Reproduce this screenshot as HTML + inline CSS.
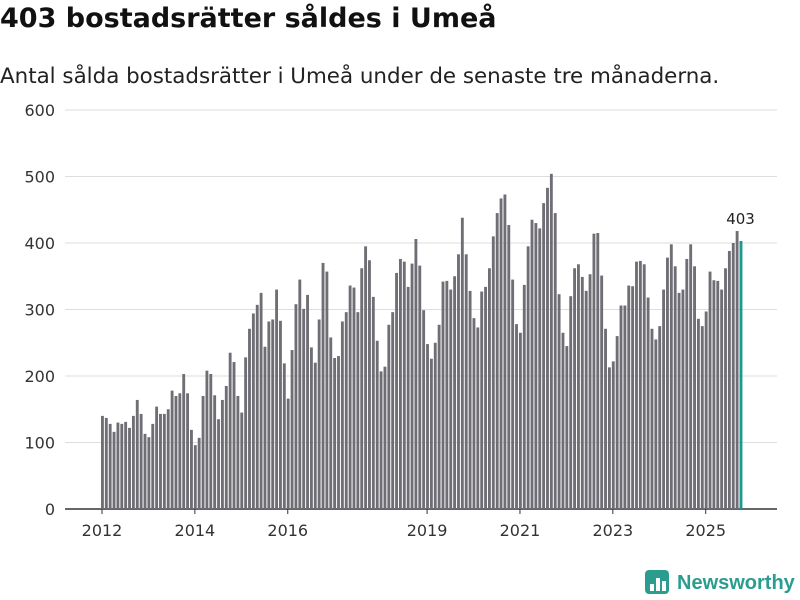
<!DOCTYPE html>
<html><head><meta charset="utf-8"><style>
body{margin:0;background:#fff;font-family:"Liberation Sans","DejaVu Sans",sans-serif;}
#wrap{position:relative;width:800px;height:600px;overflow:hidden;}
h1{position:absolute;left:0;top:3px;margin:0;font-size:27px;font-weight:bold;color:#111;font-family:"DejaVu Sans",sans-serif;}
p.sub{position:absolute;left:0;top:64px;margin:0;font-size:21.4px;color:#222;font-family:"DejaVu Sans",sans-serif;}
</style></head><body>
<div id="wrap">
<h1>403 bostadsrätter såldes i Umeå</h1>
<p class="sub">Antal sålda bostadsrätter i Umeå under de senaste tre månaderna.</p>
<svg id="chart" width="800" height="600" style="position:absolute;left:0;top:0"></svg>
</div>
<script>
const startYear = 2012;
const values = [
140,137,128,116,130,128,131,122,140,164,143,113,
108,128,154,143,143,150,178,170,174,203,174,119,
96,107,170,208,203,171,135,164,185,235,221,170,
145,228,271,294,307,325,244,282,285,330,283,219,
166,239,308,345,301,322,243,220,285,370,357,258,
227,230,282,296,336,333,296,362,395,374,319,253,
207,214,277,296,355,376,372,334,369,406,366,299,
248,226,250,277,342,343,330,350,383,438,383,328,
287,273,327,334,362,410,445,467,473,427,345,278,
265,337,395,435,430,422,460,483,504,445,323,265,
245,320,362,368,349,328,353,414,415,351,271,213,
222,260,306,306,336,335,372,373,368,318,271,255,
275,330,378,398,365,325,330,376,398,365,286,275,
297,357,344,343,330,362,388,400,418,403];
const yTicks = [0,100,200,300,400,500,600];
const xTickYears = [2012,2014,2016,2019,2021,2023,2025];

const NS="http://www.w3.org/2000/svg";
const svg=document.getElementById('chart');
const y0=509, y1=110, yMax=600;
const x0=101, monthW=3.87;
const y=v=>y0-(v/yMax)*(y0-y1);
const x=i=>x0+i*monthW;
function mk(t,a){const e=document.createElementNS(NS,t);for(const k in a)e.setAttribute(k,a[k]);svg.appendChild(e);return e;}
yTicks.forEach(t=>{
  const g=mk('line',{x1:65,x2:777,y1:y(t),y2:y(t),stroke:t===0?'#333':'#ddd','stroke-width':t===0?1.5:1});
  
  
  const l=mk('text',{x:55,y:y(t)+6,'text-anchor':'end','font-size':16,fill:'#333','font-family':'DejaVu Sans, sans-serif'});
  l.textContent=t;
  
  
});
values.forEach((v,i)=>{
  const last=i===values.length-1;
  const r=mk('rect',{x:x(i),y:y(v),width:monthW-1,height:y0-y(v),fill:last?'#1a9a8f':'#6f6e75'});
  
  
});
const li=values.length-1;
const lab=mk('text',{x:x(li)+1,y:y(values[li])-17,'text-anchor':'middle','font-size':15,fill:'#222','font-family':'DejaVu Sans, sans-serif'});
lab.textContent=values[li];


xTickYears.forEach(yr=>{
  const xi=x((yr-startYear)*12)+1;
  const tk=mk('line',{x1:xi,x2:xi,y1:y0,y2:y0+5,stroke:'#333'});
  
  
  const t=mk('text',{x:xi,y:y0+27,'text-anchor':'middle','font-size':16,fill:'#333','font-family':'DejaVu Sans, sans-serif'});
  t.textContent=yr;
  
  
});
const lg=mk('rect',{x:645,y:570,width:24,height:24,rx:4,fill:'#2a9d8f'});


[[650,584,4,7],[656,578,4,13],[662,581,4,10]].forEach(b=>{mk('rect',{x:b[0],y:b[1],width:b[2],height:b[3],fill:'#fff'});});
const lt=mk('text',{x:677,y:589,'font-size':20,'font-weight':'bold',fill:'#2a9d8f'});
lt.textContent='Newsworthy';


</script>
</body></html>
